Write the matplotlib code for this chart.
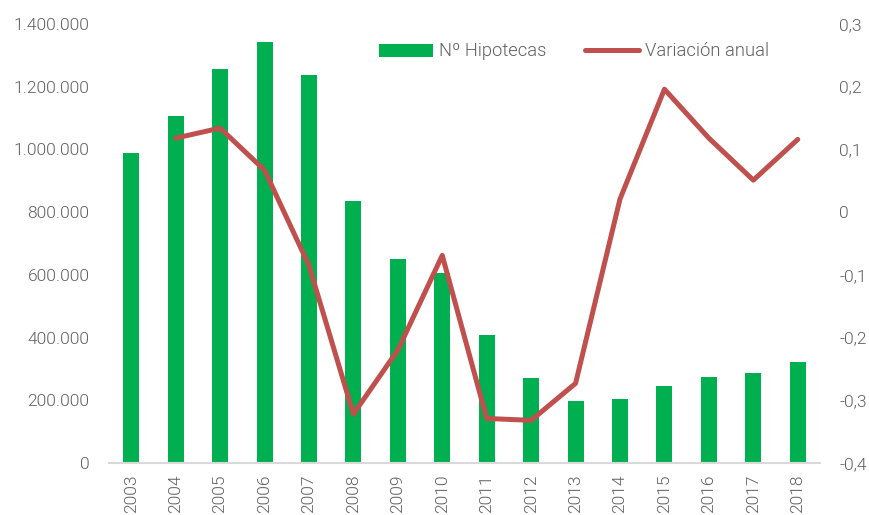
import matplotlib
matplotlib.use("Agg")
import matplotlib.pyplot as plt
from matplotlib.ticker import FuncFormatter

years = [str(y) for y in range(2003, 2019)]
hipotecas = [990000, 1107000, 1257000, 1343000, 1238000, 836000, 651000, 606000,
             408000, 271000, 198000, 204000, 246000, 274000, 288000, 322000]
# variacion anual starts in 2004
var_years = years[1:]
variacion = [0.118, 0.134, 0.067, -0.085, -0.322, -0.22, -0.069, -0.329,
             -0.332, -0.273, 0.021, 0.196, 0.118, 0.051, 0.116]

GREEN = "#00B050"
RED = "#C0504D"
TXT = "#5F5F5F"

plt.rcParams["font.family"] = ["Roboto", "DejaVu Sans"]
plt.rcParams["font.weight"] = 300

fig = plt.figure(figsize=(8.69, 5.15), dpi=100)
ax = fig.add_axes([0.1254, 0.101, 0.8182, 0.8524])
x = list(range(len(years)))
bars = ax.bar(x, hipotecas, width=0.36, color=GREEN, label="Nº Hipotecas", zorder=2)
ax.set_xlim(-0.5, len(years) - 0.5)
ax.set_ylim(0, 1400000)
ax.set_yticks(range(0, 1400001, 200000))
ax.yaxis.set_major_formatter(FuncFormatter(lambda v, p: f"{int(v):,}".replace(",", ".")))
ax.set_xticks(x)
ax.set_xticklabels(years, rotation=90)

ax2 = ax.twinx()
xl = [years.index(y) for y in var_years]
line, = ax2.plot(xl, variacion, color=RED, lw=3.6, solid_capstyle="round",
                 label="Variación anual", zorder=3)
ax2.set_ylim(-0.4, 0.3)
ticks2 = [-0.4, -0.3, -0.2, -0.1, 0, 0.1, 0.2, 0.3]
ax2.set_yticks(ticks2)
ax2.set_yticklabels(["0" if t == 0 else f"{t:.1f}".replace(".", ",") for t in ticks2])

for a in (ax, ax2):
    for s in a.spines.values():
        s.set_visible(False)
    a.tick_params(length=0, labelsize=12.5, colors=TXT)
ax.spines["bottom"].set_visible(True)
ax.spines["bottom"].set_color("#D9D9D9")
ax.spines["bottom"].set_linewidth(1.5)
ax.tick_params(axis="y", pad=14)
ax.tick_params(axis="x", pad=8)
ax2.tick_params(axis="y", pad=14)

leg = fig.legend([bars, line], ["Nº Hipotecas", "Variación anual"], loc="center",
                 bbox_to_anchor=(0.661, 0.9), ncol=2, frameon=False, fontsize=13.2,
                 handlelength=2.95, handletextpad=0.33, columnspacing=2.1)
for t in leg.get_texts():
    t.set_color(TXT)

fig.savefig("out.png", dpi=100)
